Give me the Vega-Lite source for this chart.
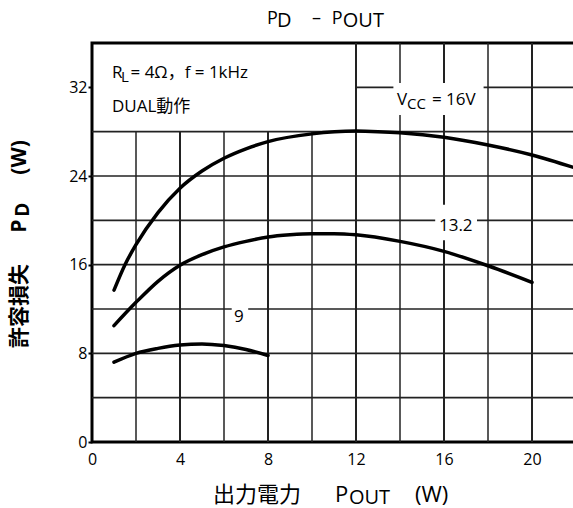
{
  "$schema": "https://vega.github.io/schema/vega-lite/v6.json",
  "width": 484,
  "height": 399,
  "autosize": {"type": "none"},
  "padding": {"left": 92, "top": 43, "right": 0, "bottom": 66},
  "background": "white",
  "config": {
    "view": {"stroke": "black", "strokeWidth": 3},
    "font": "Open Sans, Noto Sans CJK JP",
    "text": {"font": "Open Sans, Noto Sans CJK JP", "color": "black"}
  },
  "datasets": {
    "vgrid": [
      {"x": 2, "y": 0, "y2": 28}, {"x": 4, "y": 0, "y2": 28}, {"x": 6, "y": 0, "y2": 28},
      {"x": 8, "y": 0, "y2": 28}, {"x": 10, "y": 0, "y2": 28},
      {"x": 12, "y": 0, "y2": 36}, {"x": 14, "y": 0, "y2": 36}, {"x": 16, "y": 0, "y2": 36},
      {"x": 18, "y": 0, "y2": 36}, {"x": 20, "y": 0, "y2": 36}
    ],
    "hgrid": [
      {"y": 4, "x": 0, "x2": 22}, {"y": 8, "x": 0, "x2": 22}, {"y": 12, "x": 0, "x2": 22},
      {"y": 16, "x": 0, "x2": 22}, {"y": 20, "x": 0, "x2": 22}, {"y": 24, "x": 0, "x2": 22},
      {"y": 28, "x": 0, "x2": 22}, {"y": 32, "x": 12, "x2": 22}
    ],
    "labelBoxes": [
      {"x": 13.7, "x2": 17.8, "y": 29.5, "y2": 32.4},
      {"x": 15.6, "x2": 17.5, "y": 18.2, "y2": 21.4},
      {"x": 6.35, "x2": 7.1, "y": 10.4, "y2": 12.5}
    ],
    "curves": [
      {"vcc": "16", "x": 1, "y": 13.7}, {"vcc": "16", "x": 1.5, "y": 16.0},
      {"vcc": "16", "x": 2, "y": 17.8}, {"vcc": "16", "x": 3, "y": 20.7},
      {"vcc": "16", "x": 4, "y": 22.9}, {"vcc": "16", "x": 5, "y": 24.45},
      {"vcc": "16", "x": 6, "y": 25.6}, {"vcc": "16", "x": 7, "y": 26.45},
      {"vcc": "16", "x": 8, "y": 27.1}, {"vcc": "16", "x": 10, "y": 27.8},
      {"vcc": "16", "x": 12, "y": 28.05}, {"vcc": "16", "x": 13, "y": 28.0},
      {"vcc": "16", "x": 14, "y": 27.9}, {"vcc": "16", "x": 16, "y": 27.5},
      {"vcc": "16", "x": 18, "y": 26.8}, {"vcc": "16", "x": 20, "y": 25.9},
      {"vcc": "16", "x": 22, "y": 24.7},
      {"vcc": "13.2", "x": 1, "y": 10.5}, {"vcc": "13.2", "x": 2, "y": 12.6},
      {"vcc": "13.2", "x": 3, "y": 14.5}, {"vcc": "13.2", "x": 4, "y": 15.95},
      {"vcc": "13.2", "x": 5, "y": 16.9}, {"vcc": "13.2", "x": 6, "y": 17.6},
      {"vcc": "13.2", "x": 7, "y": 18.1}, {"vcc": "13.2", "x": 8, "y": 18.5},
      {"vcc": "13.2", "x": 9, "y": 18.7}, {"vcc": "13.2", "x": 10, "y": 18.8},
      {"vcc": "13.2", "x": 11, "y": 18.8}, {"vcc": "13.2", "x": 12, "y": 18.7},
      {"vcc": "13.2", "x": 14, "y": 18.1}, {"vcc": "13.2", "x": 16, "y": 17.2},
      {"vcc": "13.2", "x": 18, "y": 15.9}, {"vcc": "13.2", "x": 20, "y": 14.4},
      {"vcc": "9", "x": 1, "y": 7.2}, {"vcc": "9", "x": 2, "y": 8.0},
      {"vcc": "9", "x": 3, "y": 8.45}, {"vcc": "9", "x": 4, "y": 8.75},
      {"vcc": "9", "x": 5, "y": 8.85}, {"vcc": "9", "x": 6, "y": 8.7},
      {"vcc": "9", "x": 7, "y": 8.35}, {"vcc": "9", "x": 8, "y": 7.8}
    ],
    "notes": [
      {"x": 0.91, "y": 32.8, "t": "R"},
      {"x": 1.75, "y": 32.8, "t": "= 4Ω，f = 1kHz"},
      {"x": 0.91, "y": 29.8, "t": "DUAL動作"},
      {"x": 13.86, "y": 30.44, "t": "V"},
      {"x": 15.45, "y": 30.44, "t": "= 16V"},
      {"x": 15.77, "y": 19.06, "t": "13.2"},
      {"x": 6.45, "y": 10.84, "t": "9"}
    ],
    "noteSubs": [
      {"x": 1.32, "y": 32.8, "t": "L"},
      {"x": 14.32, "y": 30.44, "t": "CC"}
    ],
    "titleMain": [
      {"x": 7.95, "y": 37.67, "t": "P"},
      {"x": 10.0, "y": 37.67, "t": "–"},
      {"x": 10.9, "y": 37.67, "t": "P"}
    ],
    "titleSubs": [
      {"x": 8.41, "y": 37.67, "t": "D"},
      {"x": 11.4, "y": 37.67, "t": "OUT"}
    ],
    "xTitleMain": [
      {"x": 5.5, "y": -5.42, "t": "出力電力"},
      {"x": 11.05, "y": -5.42, "t": "P"},
      {"x": 14.68, "y": -5.42, "t": "(W)"}
    ],
    "xTitleSubs": [
      {"x": 11.68, "y": -5.42, "t": "OUT"}
    ],
    "yTitleMain": [
      {"x": -3.27, "y": 8.49, "t": "許容損失"},
      {"x": -3.27, "y": 18.88, "t": "P"},
      {"x": -3.27, "y": 24.12, "t": "(W)"}
    ],
    "yTitleSubs": [
      {"x": -3.27, "y": 20.33, "t": "D"}
    ]
  },
  "layer": [
    {
      "data": {"name": "vgrid"},
      "mark": {"type": "rule"},
      "encoding": {
        "x": {
          "field": "x", "type": "quantitative", "title": null,
          "scale": {"domain": [0, 22], "nice": false, "zero": false},
          "axis": {
            "values": [0, 4, 8, 12, 16, 20], "ticks": false, "domain": false, "grid": false,
            "labelFontSize": 16, "labelColor": "black", "labelPadding": 9,
            "labelFlush": false, "labelOverlap": false, "labelFont": "Open Sans", "title": null
          }
        },
        "y": {
          "field": "y", "type": "quantitative", "title": null,
          "scale": {"domain": [0, 36], "nice": false, "zero": false},
          "axis": {
            "values": [0, 8, 16, 24, 32], "tickSize": 4, "tickColor": "black", "tickWidth": 2,
            "domain": false, "grid": false, "labelFontSize": 16, "labelColor": "black",
            "labelPadding": 1, "labelFlush": false, "labelOverlap": false,
            "labelFont": "Open Sans", "title": null
          }
        },
        "y2": {"field": "y2"},
        "color": {"value": "#222"},
        "strokeWidth": {"condition": {"test": "datum.x % 4 === 0", "value": 2}, "value": 1.5}
      }
    },
    {
      "data": {"name": "hgrid"},
      "mark": {"type": "rule", "color": "#222", "strokeWidth": 1.6},
      "encoding": {
        "x": {"field": "x", "type": "quantitative", "title": null},
        "x2": {"field": "x2"},
        "y": {"field": "y", "type": "quantitative", "title": null}
      }
    },
    {
      "data": {"name": "labelBoxes"},
      "mark": {"type": "rect", "color": "white"},
      "encoding": {
        "x": {"field": "x", "type": "quantitative", "title": null},
        "x2": {"field": "x2"},
        "y": {"field": "y", "type": "quantitative", "title": null},
        "y2": {"field": "y2"}
      }
    },
    {
      "data": {"name": "curves"},
      "mark": {"type": "line", "color": "black", "strokeWidth": 3.5, "interpolate": "monotone", "strokeCap": "round"},
      "encoding": {
        "x": {"field": "x", "type": "quantitative", "title": null},
        "y": {"field": "y", "type": "quantitative", "title": null},
        "detail": {"field": "vcc", "type": "nominal"}
      }
    },
    {
      "data": {"name": "notes"},
      "mark": {"type": "text", "align": "left", "baseline": "alphabetic", "fontSize": 17},
      "encoding": {
        "x": {"field": "x", "type": "quantitative", "title": null},
        "y": {"field": "y", "type": "quantitative", "title": null},
        "text": {"field": "t"}
      }
    },
    {
      "data": {"name": "noteSubs"},
      "mark": {"type": "text", "align": "left", "baseline": "alphabetic", "fontSize": 15, "dy": 4},
      "encoding": {
        "x": {"field": "x", "type": "quantitative", "title": null},
        "y": {"field": "y", "type": "quantitative", "title": null},
        "text": {"field": "t"}
      }
    },
    {
      "data": {"name": "titleMain"},
      "mark": {"type": "text", "align": "left", "baseline": "alphabetic", "fontSize": 18},
      "encoding": {
        "x": {"field": "x", "type": "quantitative", "title": null},
        "y": {"field": "y", "type": "quantitative", "title": null},
        "text": {"field": "t"}
      }
    },
    {
      "data": {"name": "titleSubs"},
      "mark": {"type": "text", "align": "left", "baseline": "alphabetic", "fontSize": 20, "dy": 3},
      "encoding": {
        "x": {"field": "x", "type": "quantitative", "title": null},
        "y": {"field": "y", "type": "quantitative", "title": null},
        "text": {"field": "t"}
      }
    },
    {
      "data": {"name": "xTitleMain"},
      "mark": {"type": "text", "align": "left", "baseline": "alphabetic", "fontSize": 22},
      "encoding": {
        "x": {"field": "x", "type": "quantitative", "title": null},
        "y": {"field": "y", "type": "quantitative", "title": null},
        "text": {"field": "t"}
      }
    },
    {
      "data": {"name": "xTitleSubs"},
      "mark": {"type": "text", "align": "left", "baseline": "alphabetic", "fontSize": 20, "dy": 2},
      "encoding": {
        "x": {"field": "x", "type": "quantitative", "title": null},
        "y": {"field": "y", "type": "quantitative", "title": null},
        "text": {"field": "t"}
      }
    },
    {
      "data": {"name": "yTitleMain"},
      "mark": {"type": "text", "align": "left", "baseline": "middle", "angle": 270, "fontSize": 21, "fontWeight": "bold"},
      "encoding": {
        "x": {"field": "x", "type": "quantitative", "title": null},
        "y": {"field": "y", "type": "quantitative", "title": null},
        "text": {"field": "t"}
      }
    },
    {
      "data": {"name": "yTitleSubs"},
      "mark": {"type": "text", "align": "left", "baseline": "middle", "angle": 270, "fontSize": 19, "fontWeight": "bold", "dy": 3},
      "encoding": {
        "x": {"field": "x", "type": "quantitative", "title": null},
        "y": {"field": "y", "type": "quantitative", "title": null},
        "text": {"field": "t"}
      }
    }
  ]
}
